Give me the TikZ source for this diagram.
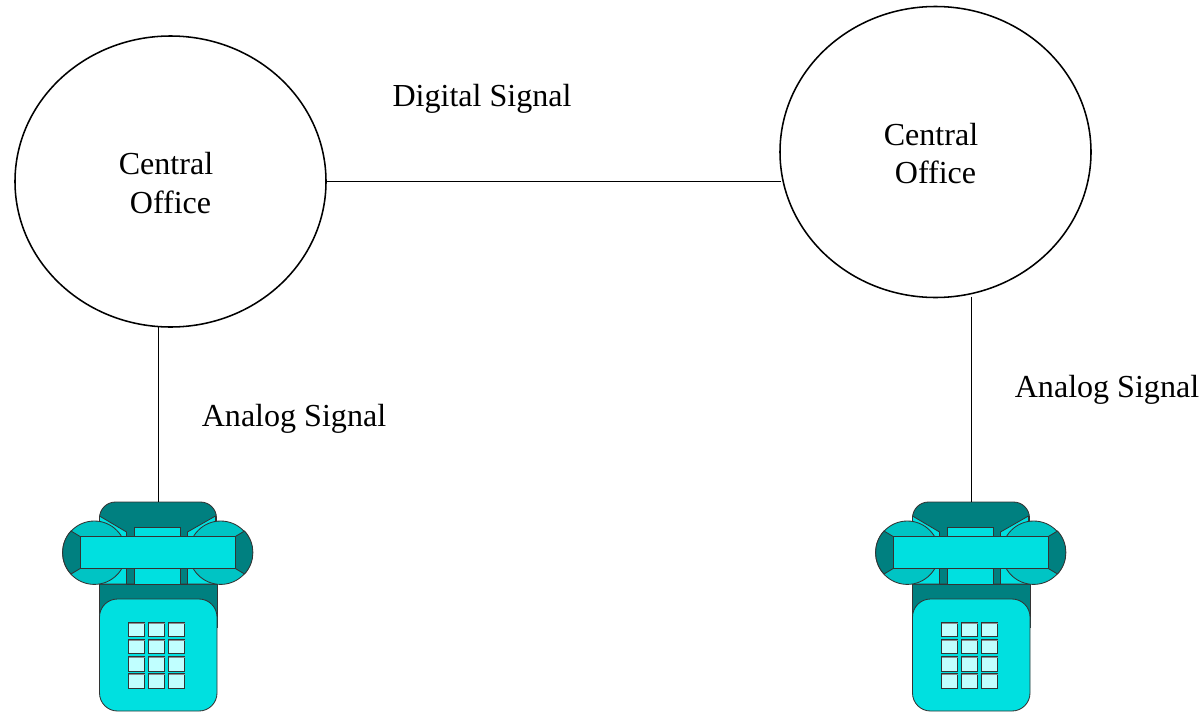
\documentclass[tikz,border=0pt]{standalone}
\usepackage{fontspec}
\setmainfont{Liberation Serif}
\usetikzlibrary{shapes.geometric}
\definecolor{phonedark}{HTML}{008080}
\definecolor{phonemid}{HTML}{00C4C4}
\definecolor{phonelight}{HTML}{00E0E0}
\definecolor{phonekey}{HTML}{C0FFFF}
\newcommand{\officetext}{\rule{0pt}{18pt}Central\kern6.4pt\\Office}
\tikzset{
	office/.style={draw,line width=1.1pt,ellipse,minimum width=311*0.025cm,minimum height=291*0.025cm,inner sep=0pt,align=center,font=\fontsize{22.8}{27.6}\selectfont},
	lbl/.style={font=\fontsize{22.8}{27.6}\selectfont,inner sep=0pt},
	wire/.style={line width=1.1pt},
	part/.style={draw=black!80,line width=0.6pt},
	phone/.pic={
		\coordinate (-top) at (59,0);
		% dark body
		\filldraw [part,fill=phonedark,rounded corners=4mm] (0,82) -- (0,0) -- (117,0) -- (117,82) -- cycle;
		\filldraw [part,fill=phonedark] (0,82) rectangle (118,125);
		% cradle
		\filldraw [part,fill=phonelight] (0,14) -- (27,30) -- (27,82) -- (0,82) -- cycle;
		\filldraw [part,fill=phonelight] (116,14) -- (88,30) -- (88,82) -- (116,82) -- cycle;
		\filldraw [part,fill=phonelight] (35,25) rectangle (81,82);
		% ear pieces
		\filldraw [part,fill=phonemid] (-5.2,50.7) circle (31.7*0.025cm);
		\filldraw [part,fill=phonemid] (121.2,50.7) circle (31.7*0.025cm);
		\filldraw [part,fill=phonedark] (-28.5,29) -- (-19,34.7) -- (-19,66.3) -- (-28.5,72) .. controls (-39.7,60) and (-39.7,41) .. (-28.5,29) -- cycle;
		\filldraw [part,fill=phonedark] (145,29) -- (135.5,34.7) -- (135.5,66.3) -- (145,72) .. controls (156.2,60) and (156.2,41) .. (145,29) -- cycle;
		% handset
		\filldraw [part,fill=phonelight] (-19,34.7) rectangle (135.5,66.3);
		% key pad
		\filldraw [part,fill=phonelight,rounded corners=4.5mm] (0,97) rectangle (117.5,209);
		\foreach \keyx in {29,49,69} {
			\foreach \keyy in {120,137,154.5,171.5} {
				\filldraw [part,fill=phonekey] (\keyx,\keyy) rectangle ++(16,14.5);
				\draw [black!45,line width=0.6pt] (\keyx,\keyy+1.3) -- ++(16,0);
			}
		}
	},
}
\begin{document}
\begin{tikzpicture}[x=0.025cm,y=-0.025cm]
	\useasboundingbox (0,0) rectangle (1204,711);
	\node [office] (officeA) at (170.5,181.5) {\officetext};
	\node [office] (officeB) at (935.5,152) {\officetext};
	%
	\pic (phoneA) at (99.5,502) {phone};
	\pic (phoneB) at (912.5,502) {phone};
	%
	\coordinate (tapA) at (158.7,327);
	\coordinate (tapB) at (971.7,296.5);
	\coordinate (tapC) at (326,181.7);
	\coordinate (tapD) at (781,181.7);
	\draw [wire] (tapC) -- (tapD);
	\draw [wire] (tapA) -- (tapA |- phoneA-top);
	\draw [wire] (tapB) -- (tapB |- phoneB-top);
	%
	\node [lbl] (digital) at (482,99) {Digital Signal};
	\node [lbl] (analogA) at (294,419) {Analog Signal};
	\node [lbl] (analogB) at (1107,390) {Analog Signal};
\end{tikzpicture}
\end{document}
